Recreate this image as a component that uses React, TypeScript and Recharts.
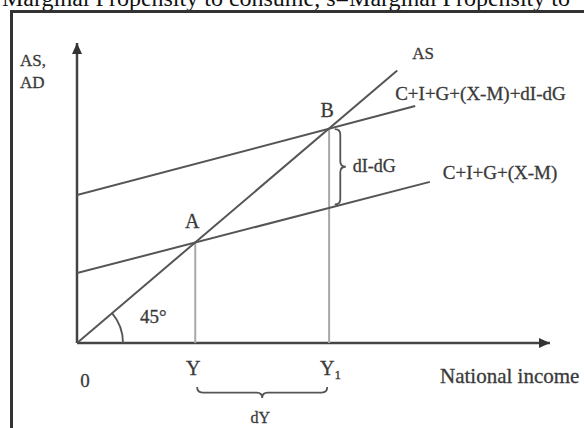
import React from 'react'
import {
  ComposedChart, Line, XAxis, YAxis, ReferenceLine, ReferenceDot,
} from 'recharts'

// Aggregate supply (45° line) and the two aggregate demand schedules
const asLine = [{ x: 0, y: 0 }, { x: 67.7, y: 90.8 }]
const adLine = [{ x: 0, y: 23.3 }, { x: 74.6, y: 53.7 }]
const adShifted = [{ x: 0, y: 49.3 }, { x: 71.5, y: 79 }]

// equilibria A and B, and the income levels Y and Y1 under them
const equilibria = [
  { name: 'A', x: 25, y: 33.5 },
  { name: 'B', x: 53.3, y: 71.4 },
]
const incomeLevels = [25, 53.3]

const ink = '#3a3a3a'
const font = '"Liberation Serif", "DejaVu Serif", serif'

type Pt = { cx?: number; cy?: number }

// small text note placed next to a data point
const note = (
  text: React.ReactNode, dx: number, dy: number,
  size = 19, anchor: 'start' | 'middle' | 'end' = 'start',
) => (p: Pt) => (
  <text
    x={(p.cx ?? 0) + dx}
    y={(p.cy ?? 0) + dy}
    textAnchor={anchor}
    style={{ fontFamily: font, fontSize: size, fill: ink, stroke: ink, strokeWidth: 0.3 }}
  >
    {text}
  </text>
)

// curly brace drawn between the two ends of a segment, bulging to its right-hand side
function Brace(props: { x1?: number; y1?: number; x2?: number; y2?: number }) {
  const { x1 = 0, y1 = 0, x2 = 0, y2 = 0 } = props
  const len = Math.hypot(x2 - x1, y2 - y1)
  const ang = (Math.atan2(y2 - y1, x2 - x1) * 180) / Math.PI
  const h = 5.5
  const m = len / 2
  const d = `M 0 0 q 0 ${h} ${h} ${h} L ${m - h} ${h} q ${h} 0 ${h} ${h} q 0 ${-h} ${h} ${-h} L ${len - h} ${h} q ${h} 0 ${h} ${-h}`
  return (
    <path
      d={d}
      transform={`translate(${x1},${y1}) rotate(${ang})`}
      fill="none"
      stroke="#555"
      strokeWidth={1.8}
    />
  )
}

const Arc45 = (p: Pt) => {
  const cx = p.cx ?? 0
  const cy = p.cy ?? 0
  const r = 46
  const a = (40.4 * Math.PI) / 180
  return (
    <path
      d={`M ${cx + r} ${cy} A ${r} ${r} 0 0 0 ${cx + r * Math.cos(a)} ${cy - r * Math.sin(a)}`}
      fill="none"
      stroke="#555"
      strokeWidth={1.8}
    />
  )
}

const ArrowRight = (p: Pt) => {
  const cx = p.cx ?? 0
  const cy = p.cy ?? 0
  return <polygon points={`${cx},${cy} ${cx - 11},${cy - 5} ${cx - 11},${cy + 5}`} fill="#333" />
}

const ArrowUp = (p: Pt) => {
  const cx = p.cx ?? 0
  const cy = p.cy ?? 0
  return <polygon points={`${cx},${cy} ${cx - 5},${cy + 11} ${cx + 5},${cy + 11}`} fill="#333" />
}

export default function App() {
  const [A, B] = equilibria
  const midY = (incomeLevels[0] + incomeLevels[1]) / 2
  return (
    <div style={{ position: 'absolute', left: 0, top: 0, width: 584, height: 428, overflow: 'hidden', background: '#fff' }}>
      {/* tail of the previous line of text in the source document */}
      <svg width={584} height={20} style={{ position: 'absolute', left: 0, top: 0 }}>
        <text x={2} y={6} style={{ fontFamily: font, fontSize: 24, fill: '#111' }}>
          Marginal Propensity to consume, s=Marginal Propensity to
        </text>
      </svg>
      <div style={{ position: 'absolute', left: 10, top: 10, width: 640, height: 520, border: '3px solid #333' }} />
      <div style={{ position: 'absolute', left: 0, top: 0 }}>
        <ComposedChart width={584} height={428} margin={{ top: 43, right: 34, bottom: 85, left: 77 }}>
          <XAxis dataKey="x" type="number" domain={[0, 100]} allowDataOverflow hide />
          <YAxis type="number" domain={[0, 100]} allowDataOverflow hide />

          {/* axes */}
          <ReferenceLine segment={[{ x: 0, y: 0 }, { x: 100, y: 0 }]} stroke="#444" strokeWidth={2.5} />
          <ReferenceLine segment={[{ x: 0, y: 0 }, { x: 0, y: 100 }]} stroke="#444" strokeWidth={2.5} />

          {/* drop lines from A and B to the income axis */}
          <ReferenceLine segment={[{ x: A.x, y: 0 }, { x: A.x, y: A.y }]} stroke="#a8a8a8" strokeWidth={2} />
          <ReferenceLine segment={[{ x: B.x, y: 0 }, { x: B.x, y: B.y }]} stroke="#a8a8a8" strokeWidth={2} />

          <Line data={asLine} dataKey="y" type="linear" dot={false} stroke="#555" strokeWidth={2} isAnimationActive={false} />
          <Line data={adLine} dataKey="y" type="linear" dot={false} stroke="#555" strokeWidth={2} isAnimationActive={false} />
          <Line data={adShifted} dataKey="y" type="linear" dot={false} stroke="#555" strokeWidth={2} isAnimationActive={false} />

          {/* braces: shift of demand and change of income */}
          <ReferenceLine segment={[{ x: 54.5, y: 46.2 }, { x: 54.5, y: 71.3 }]} shape={<Brace />} ifOverflow="visible" />
          <ReferenceLine segment={[{ x: 25.4, y: -14.7 }, { x: 52.9, y: -14.7 }]} shape={<Brace />} ifOverflow="visible" />

          <ReferenceDot x={0} y={0} r={0} shape={Arc45} />
          <ReferenceDot x={100} y={0} r={0} shape={ArrowRight} />
          <ReferenceDot x={0} y={100} r={0} shape={ArrowUp} />

          <ReferenceDot x={A.x} y={A.y} r={0} shape={note('A', -3, -15, 20, 'middle')} />
          <ReferenceDot x={B.x} y={B.y} r={0} shape={note('B', -2, -12, 20, 'middle')} />
          <ReferenceDot x={asLine[1].x} y={asLine[1].y} r={0} shape={note('AS', 15, -12, 17)} />
          <ReferenceDot x={adShifted[1].x} y={adShifted[1].y} r={0} shape={note('C+I+G+(X-M)+dI-dG', -20, -6, 19)} />
          <ReferenceDot x={adLine[1].x} y={adLine[1].y} r={0} shape={note('C+I+G+(X-M)', 13, -3, 19)} />
          <ReferenceDot x={54.5} y={58.7} r={0} shape={note('dI-dG', 18, 5, 18)} />
          <ReferenceDot x={0} y={0} r={0} shape={note('45°', 63, -20, 19)} />
          <ReferenceDot x={0} y={0} r={0} shape={note('0', 8, 44, 19, 'middle')} />
          <ReferenceDot x={incomeLevels[0]} y={0} r={0} shape={note('Y', -2, 32, 20, 'middle')} />
          <ReferenceDot
            x={incomeLevels[1]} y={0} r={0}
            shape={note(<><tspan>Y</tspan><tspan fontSize={13} dy={4}>1</tspan></>, -9, 32, 20)}
          />
          <ReferenceDot x={midY} y={0} r={0} shape={note('dY', -2, 80, 16, 'middle')} />
          <ReferenceDot x={100} y={0} r={0} shape={note('National income', -110, 40, 21)} />
          <ReferenceDot x={0} y={100} r={0} shape={note('AS,', -57, 23, 17)} />
          <ReferenceDot x={0} y={100} r={0} shape={note('AD', -57, 45, 17)} />
        </ComposedChart>
      </div>
    </div>
  )
}
